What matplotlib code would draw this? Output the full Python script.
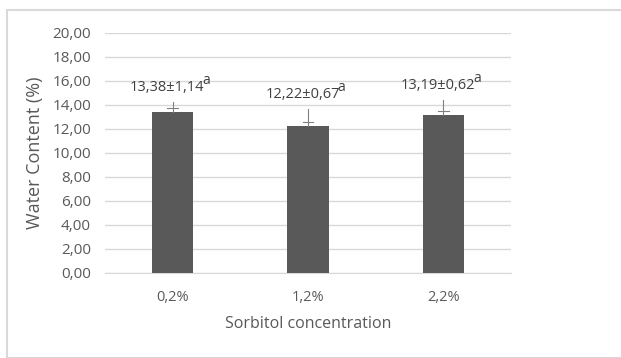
import matplotlib
matplotlib.use("Agg")
import matplotlib.pyplot as plt
from matplotlib.patches import Rectangle
from matplotlib.transforms import offset_copy

categories = ["0,2%", "1,2%", "2,2%"]
values = [13.38, 12.22, 13.19]
labels = ["13,38±1,14", "12,22±0,67", "13,19±0,62"]
letters = ["a", "a", "a"]
err_top = [14.28, 13.67, 14.42]
err_cap = [13.72, 12.56, 13.50]
label_y = [15.45, 14.85, 15.65]
yticks = [0, 2, 4, 6, 8, 10, 12, 14, 16, 18, 20]

plt.rcParams['font.family'] = ['Open Sans', 'DejaVu Sans']

txt = '#595959'
fig = plt.figure(figsize=(6.21, 3.58), dpi=100)
fig.patches.append(Rectangle((7/621, 0), 1, 1 - 10/358, transform=fig.transFigure,
                             fill=False, edgecolor='#d9d9d9', linewidth=1.5))
ax = fig.add_axes([105/621, 1 - 273/358, 406/621, 240/358])
x = list(range(len(categories)))
ax.bar(x, values, width=0.305, color='#595959', zorder=3)
texts = []
for i in x:
    ax.plot([i, i], [values[i], err_top[i]], color='#808080', lw=0.8, zorder=4)
    ax.plot([i - 0.04, i + 0.04], [err_cap[i], err_cap[i]], color='#808080', lw=0.8, zorder=4)
    t = ax.text(i - 0.04, label_y[i], labels[i], ha='center', va='center',
                color='#404040', fontsize=10.5)
    texts.append(t)
ax.set_xlim(-0.5, 2.5)
ax.set_ylim(0, 20)
ax.set_yticks(yticks)
ax.set_yticklabels([f"{v:.2f}".replace('.', ',') for v in yticks])
ax.set_xticks(x)
ax.set_xticklabels(categories)
ax.yaxis.grid(True, color='#d9d9d9', lw=1, zorder=0)
for s in ['top', 'right', 'left']:
    ax.spines[s].set_visible(False)
ax.spines['bottom'].set_color('#d9d9d9')
ax.tick_params(length=0, colors=txt)
ax.tick_params(axis='x', pad=12, labelsize=10.5)
ax.tick_params(axis='y', pad=10, labelsize=11)
ax.set_xlabel("Sorbitol concentration", color=txt, fontsize=11.5, labelpad=8)
ax.set_ylabel("Water Content (%)", color=txt, fontsize=13, labelpad=6)

fig.canvas.draw()
r = fig.canvas.get_renderer()
inv = ax.transData.inverted()
for i, t in enumerate(texts):
    bb = t.get_window_extent(r)
    xd, _ = inv.transform((bb.x1, bb.y1))
    tr = offset_copy(ax.transData, fig=fig, x=-1.5, y=5, units='points')
    ax.text(xd, label_y[i], letters[i], transform=tr, ha='left', va='center',
            color='#404040', fontsize=10)
fig.savefig("out.png", dpi=100)
